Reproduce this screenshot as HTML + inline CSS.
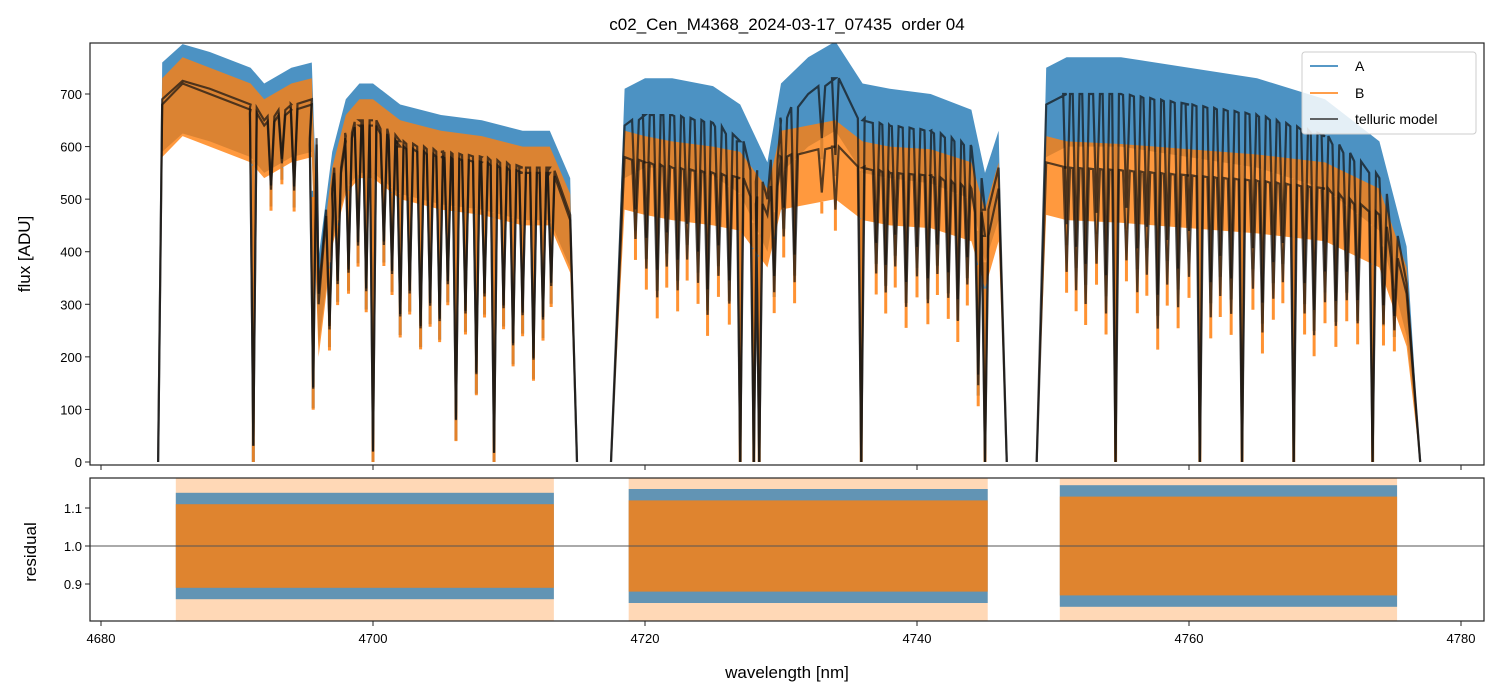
<!DOCTYPE html>
<html><head><meta charset="utf-8"><style>
html,body{margin:0;padding:0;background:#fff;}
svg{display:block;font-family:"Liberation Sans","DejaVu Sans",sans-serif;}
</style></head><body>
<svg id="chart" width="1499" height="696" viewBox="0 0 1499 696" xmlns="http://www.w3.org/2000/svg">
<defs>
<clipPath id="ct"><rect x="90" y="43" width="1394" height="422"/></clipPath>
<clipPath id="cb"><rect x="90" y="478" width="1394" height="143"/></clipPath>
</defs>
<text x="787" y="30" font-size="17" text-anchor="middle" style="white-space:pre">c02_Cen_M4368_2024-03-17_07435  order 04</text>
<text x="787" y="678" font-size="17" text-anchor="middle">wavelength [nm]</text>
<text x="30" y="254" font-size="17" text-anchor="middle" transform="rotate(-90 30 254)">flux [ADU]</text>
<text x="36" y="552" font-size="17" text-anchor="middle" transform="rotate(-90 36 552)">residual</text>
<g id="topPanel" clip-path="url(#ct)"></g>
<g id="botPanel" clip-path="url(#cb)"></g>
<g id="axG"></g>
<g>
<rect x="1302" y="52" width="174" height="82" rx="3" fill="#fff" fill-opacity="0.85" stroke="#ccc"/>
<line x1="1310" x2="1338" y1="66" y2="66" stroke="#1f77b4" stroke-width="1.5"/><text x="1355" y="71" font-size="14">A</text>
<line x1="1310" x2="1338" y1="93" y2="93" stroke="#ff7f0e" stroke-width="1.5"/><text x="1355" y="98" font-size="14">B</text>
<line x1="1310" x2="1338" y1="119" y2="119" stroke="#333" stroke-width="1.5"/><text x="1355" y="124" font-size="14">telluric model</text>
</g>
</svg>
<script>
// ---- data ----
const segWl = [[4684.2,4684.5,4686,4688,4690,4691,4692,4694,4695.5,4696,4697,4698,4699,4700,4702,4705,4708,4711,4713,4714.5,4715],
               [4717.5,4718.5,4720,4722,4725,4727,4729,4730,4732,4734,4736,4738,4741,4744,4745,4746,4746.6],
               [4748.8,4749.5,4751,4755,4760,4765,4770,4774,4776,4777]];
const segA = [[0,690,725,710,690,680,650,680,690,320,520,620,650,650,610,590,580,560,560,470,0],
              [0,640,660,660,645,610,500,650,700,730,650,640,630,600,480,560,0],
              [0,680,700,700,680,660,620,540,340,0]];
const segB = [[0,680,720,700,680,670,640,670,680,300,510,610,640,640,600,580,570,550,550,460,0],
              [0,580,570,560,550,540,470,580,590,600,560,550,545,520,430,520,0],
              [0,570,560,555,545,535,520,470,320,0]];
const dipWl = [4691.2,4700.0,4708.9,4727.0,4728.0,4728.4,4735.9,4745.0,4754.6,4760.8,4763.9,4767.7,4773.5,
  4695.6,4706.1,4707.6,4711.8,4710.3,4702.0,4703.5,4744.5,
  4692.5,4693.3,4694.2,4696.8,4697.4,4698.2,4698.9,4699.5,4700.8,4701.4,4702.7,4704.2,4704.9,4705.5,4706.8,4708.2,4709.6,4711.0,4712.5,4713.1,
  4719.3,4720.1,4720.9,4721.6,4722.4,4723.1,4723.9,4724.6,4725.4,4726.2,4729.5,4730.2,4731.0,4733.0,4734.0,4737.0,4737.7,4738.4,4739.2,4740.0,4740.8,4741.5,4742.3,4743.0,4743.7,
  4751.0,4751.7,4752.4,4753.2,4753.9,4755.4,4756.2,4756.9,4757.7,4758.4,4759.2,4760.0,4761.6,4762.3,4763.1,4764.7,4765.4,4766.2,4766.9,4768.5,4769.2,4770.0,4770.8,4771.6,4772.4,4774.3,4775.1];
const dipFlux = [30,20,20,0,0,0,0,0,0,0,0,0,0,
  150,90,190,230,260,300,280,200,
  520,560,500,350,400,380,420,330,430,380,350,330,300,380,320,360,340,330,320,400,
  480,420,360,430,380,450,400,330,420,360,400,480,380,560,520,420,380,440,350,420,360,430,380,330,420,
  420,380,350,440,330,450,380,420,300,400,350,420,330,380,340,400,300,380,420,350,300,380,330,400,350,380,420];
const resSeg = [[4685.5,4713.3],[4718.8,4745.2],[4750.5,4775.3]];
const resAmpA = [0.14,0.15,0.16];
const resAmpB = [0.11,0.12,0.13];
const xTicks = [4680,4700,4720,4740,4760,4780];
const yTicks = [0,100,200,300,400,500,600,700];
const rTicks = [0.9,1.0,1.1];
// ---- scales ----
const X = w => 101 + (w-4680)*13.6;
const Y = f => 462 - f*0.5257;
const R = r => 546 - (r-1)*380;
const NS = "http://www.w3.org/2000/svg";
function mk(parent, tag, attrs){const e=document.createElementNS(NS,tag);for(const k in attrs)e.setAttribute(k,attrs[k]);parent.appendChild(e);return e;}
const gT = document.getElementById('topPanel'), gB = document.getElementById('botPanel'), axG = document.getElementById('axG');
function contAt(ws,vs,w){for(let i=0;i<ws.length-1;i++){if(w>=ws[i]&&w<=ws[i+1]){const t=(w-ws[i])/(ws[i+1]-ws[i]);return vs[i]+t*(vs[i+1]-vs[i]);}}return null;}
function drawSeries(segs, color, up, lo, name){
  const g = mk(gT,'g',{});
  
  
  segs.forEach((vs,si)=>{
    const ws=segWl[si];
    let ptsU=[],ptsL=[];
    ws.forEach((w,i)=>{ptsU.push(X(w)+','+Y(vs[i]>0?vs[i]+up:0));ptsL.unshift(X(w)+','+Y(vs[i]>0?Math.max(vs[i]-lo,0):0));});
    mk(g,'polygon',{points:ptsU.concat(ptsL).join(' '),fill:color,'fill-opacity':0.8});
    dipWl.forEach((w,j)=>{const c=contAt(ws,vs,w); if(c&&c>0){
      mk(g,'line',{x1:X(w),x2:X(w),y1:Y(c-lo),y2:Y(Math.max(dipFlux[j]*(c/650)-40,0)),stroke:color,'stroke-width':3,'stroke-opacity':0.85});}});
  });
}
function drawModel(segs, name){
  const g = mk(gT,'g',{});
  
  
  segs.forEach((vs,si)=>{
    const ws=segWl[si]; const pts=[];
    const ds=dipWl.map((w,j)=>[w,dipFlux[j]]).filter(d=>d[0]>ws[0]+0.2&&d[0]<ws[ws.length-1]-0.2);
    const all=[...ws.map((w,i)=>[w,vs[i],0]),...ds.map(d=>[d[0],d[1],1])].sort((a,b)=>a[0]-b[0]);
    all.forEach(p=>{ if(p[2]){const c=contAt(ws,vs,p[0]); pts.push([p[0]-0.25,c],[p[0],p[1]*(c/650)],[p[0]+0.25,c]);} else pts.push([p[0],p[1]]);});
    mk(g,'polyline',{points:pts.map(p=>X(p[0])+','+Y(p[1])).join(' '),fill:'none',stroke:'#111','stroke-width':2.2,'stroke-opacity':0.7});
  });
}
drawSeries(segA,'#1f77b4',70,100,'series-a');
drawSeries(segB,'#ff7f0e',50,100,'series-b');
drawModel(segA,'telluric-model-a');
drawModel(segB,'telluric-model-b');
resSeg.forEach((s,i)=>{
  const o=mk(gB,'rect',{x:X(s[0]),width:X(s[1])-X(s[0]),y:R(1.2),height:R(0.8)-R(1.2),fill:'#ff7f0e','fill-opacity':0.3});
  
  
  const a=mk(gB,'rect',{x:X(s[0]),width:X(s[1])-X(s[0]),y:R(1+resAmpA[i]),height:R(1-resAmpA[i])-R(1+resAmpA[i]),fill:'#1f77b4','fill-opacity':0.7});
  
  
  const b=mk(gB,'rect',{x:X(s[0]),width:X(s[1])-X(s[0]),y:R(1+resAmpB[i]),height:R(1-resAmpB[i])-R(1+resAmpB[i]),fill:'#ff7f0e','fill-opacity':0.8});
  
  
});
mk(gB,'line',{x1:90,x2:1484,y1:R(1),y2:R(1),stroke:'#555','stroke-width':1});
mk(axG,'rect',{x:90,y:43,width:1394,height:422,fill:'none',stroke:'#222','stroke-width':1.2});
mk(axG,'rect',{x:90,y:478,width:1394,height:143,fill:'none',stroke:'#222','stroke-width':1.2});
xTicks.forEach(t=>{
  mk(axG,'line',{x1:X(t),x2:X(t),y1:465,y2:470,stroke:'#222'});
  mk(axG,'line',{x1:X(t),x2:X(t),y1:621,y2:626,stroke:'#222'});
  const tx=mk(axG,'text',{x:X(t),y:643,'font-size':13,'text-anchor':'middle'}); tx.textContent=t;
  
  
});
yTicks.forEach(t=>{
  mk(axG,'line',{x1:85,x2:90,y1:Y(t),y2:Y(t),stroke:'#222'});
  const tx=mk(axG,'text',{x:82,y:Y(t)+5,'font-size':13,'text-anchor':'end'}); tx.textContent=t;
  
  
});
rTicks.forEach(t=>{
  mk(axG,'line',{x1:85,x2:90,y1:R(t),y2:R(t),stroke:'#222'});
  const tx=mk(axG,'text',{x:82,y:R(t)+5,'font-size':13,'text-anchor':'end'}); tx.textContent=t.toFixed(1);
  
  
});
</script>
</body></html>
